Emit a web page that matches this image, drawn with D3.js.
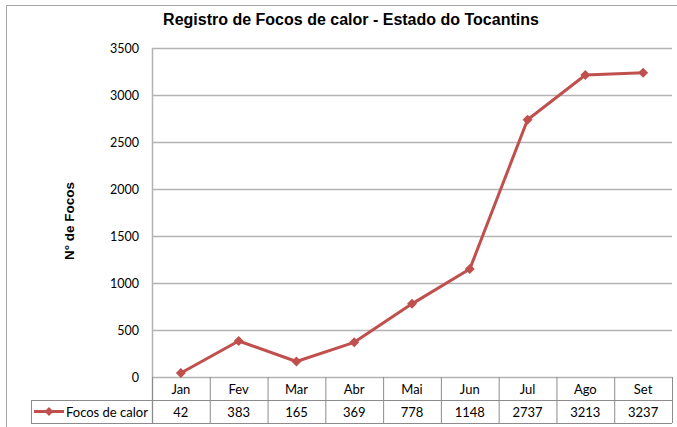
<!DOCTYPE html>
<html>
<head>
<meta charset="utf-8">
<script src="https://cdn.jsdelivr.net/npm/d3@7"></script>
<style>
  body { margin: 0; background: #fff; }
  svg { display: block; }
</style>
</head>
<body>
<svg id="chart" width="677" height="427"></svg>
<script>
// data
const meses = ["Jan", "Fev", "Mar", "Abr", "Mai", "Jun", "Jul", "Ago", "Set"]
const focos = [42, 383, 165, 369, 778, 1148, 2737, 3213, 3237]
const yTicks = [0, 500, 1000, 1500, 2000, 2500, 3000, 3500]
const serieNome = "Focos de calor"
const titulo = "Registro de Focos de calor - Estado do Tocantins"
const eixoY = "N° de Focos"

const svg = d3.select("#chart")
const tickFont = "Lato, 'Open Sans', sans-serif"
const boldFont = "'Liberation Sans Narrow', 'Liberation Sans', Arial, sans-serif"
const gray = "#b3b3b3"
const red = "#c0504d"

const plotL = 152, plotR = 672, plotT = 48, plotB = 377
const rowH = 23

const x = d3.scaleBand().domain(meses).range([plotL, plotR])
const y = d3.scaleLinear().domain([0, 3500]).range([plotB, plotT])

// diamond marker: a square turned 45deg
const diamond = s => `M0,${-s}L${s},0L0,${s}L${-s},0Z`

// outer chart border
svg.append("rect")
    .attr("x", 6.5).attr("y", 5.5)
    .attr("width", 700).attr("height", 450)
    .attr("fill", "none").attr("stroke", "#a6a6a6").attr("stroke-width", 1)

// title
svg.append("text")
    .attr("x", 351).attr("y", 25)
    .attr("text-anchor", "middle")
    .style("font-family", boldFont)
    .style("font-weight", "bold").style("font-size", "16px")
    .text(titulo)

// y label
svg.append("text")
    .attr("transform", "translate(74,221) rotate(-90)")
    .attr("text-anchor", "middle")
    .style("font-family", boldFont)
    .style("font-weight", "bold").style("font-size", "13.5px")
    .text(eixoY)

// grid + y axis
const yAxis = d3.axisLeft(y).tickValues(yTicks).tickFormat(d3.format("d")).tickSize(0).tickPadding(13)
const gy = svg.append("g").attr("transform", `translate(${plotL},0)`).call(yAxis)
gy.select(".domain").remove()
gy.selectAll("text")
    .style("font-family", tickFont).style("font-size", "12.5px").attr("fill", "#000")

svg.append("g").selectAll("line")
    .data(yTicks)
    .join("line")
    .attr("x1", plotL).attr("x2", plotR)
    .attr("y1", d => Math.round(y(d)) + 0.5).attr("y2", d => Math.round(y(d)) + 0.5)
    .attr("stroke", gray).attr("stroke-width", 1.5)

svg.append("line")
    .attr("x1", plotL + 0.5).attr("x2", plotL + 0.5)
    .attr("y1", plotT).attr("y2", plotB + 2 * rowH)
    .attr("stroke", gray).attr("stroke-width", 1.5)

// data table
const tbl = svg.append("g")
const tblColor = "#8c8c8c"
// vertical dividers
tbl.selectAll("line.v")
    .data(meses)
    .join("line")
    .attr("class", "v")
    .attr("x1", d => x(d) + x.bandwidth() + 0.5).attr("x2", d => x(d) + x.bandwidth() + 0.5)
    .attr("y1", plotB).attr("y2", plotB + 2 * rowH)
    .attr("stroke", tblColor)
// horizontal rows
tbl.append("line")
    .attr("x1", 31).attr("x2", plotR)
    .attr("y1", plotB + rowH + 0.5).attr("y2", plotB + rowH + 0.5)
    .attr("stroke", tblColor)
tbl.append("line")
    .attr("x1", 31).attr("x2", plotR)
    .attr("y1", plotB + 2 * rowH + 0.5).attr("y2", plotB + 2 * rowH + 0.5)
    .attr("stroke", tblColor)
tbl.append("line")
    .attr("x1", 31.5).attr("x2", 31.5)
    .attr("y1", plotB + rowH).attr("y2", plotB + 2 * rowH)
    .attr("stroke", tblColor)
tbl.append("line")
    .attr("x1", plotL + 0.5).attr("x2", plotL + 0.5)
    .attr("y1", plotB).attr("y2", plotB + 2 * rowH)
    .attr("stroke", tblColor)

tbl.selectAll("text.mes")
    .data(meses)
    .join("text")
    .attr("class", "mes")
    .attr("x", d => x(d) + x.bandwidth() / 2)
    .attr("y", plotB + 16.5)
    .attr("text-anchor", "middle")
    .style("font-family", tickFont).style("font-size", "13px")
    .text(d => d)

tbl.selectAll("text.val")
    .data(focos)
    .join("text")
    .attr("class", "val")
    .attr("x", (d, i) => x(meses[i]) + x.bandwidth() / 2)
    .attr("y", plotB + rowH + 16.5)
    .attr("text-anchor", "middle")
    .style("font-family", tickFont).style("font-size", "13px")
    .text(d => d)

// legend key inside table
const ky = plotB + rowH + 11.5
tbl.append("line")
    .attr("x1", 34).attr("x2", 64).attr("y1", ky).attr("y2", ky)
    .attr("stroke", red).attr("stroke-width", 3)
tbl.append("path")
    .attr("d", diamond(4.5))
    .attr("transform", `translate(49,${ky})`)
    .attr("fill", red)
tbl.append("text")
    .attr("x", 66).attr("y", plotB + rowH + 16.5)
    .style("font-family", tickFont).style("font-size", "13px")
    .text(serieNome)

// series line
const line = d3.line()
    .x((d, i) => x(meses[i]) + x.bandwidth() / 2)
    .y(d => y(d))

svg.append("path")
    .datum(focos)
    .attr("d", line)
    .attr("fill", "none")
    .attr("stroke", red).attr("stroke-width", 3)
    .attr("stroke-linejoin", "round")

svg.append("g").selectAll("path")
    .data(focos)
    .join("path")
    .attr("d", diamond(5))
    .attr("transform", (d, i) => `translate(${x(meses[i]) + x.bandwidth() / 2},${y(d)})`)
    .attr("fill", red)
</script>
</body>
</html>
